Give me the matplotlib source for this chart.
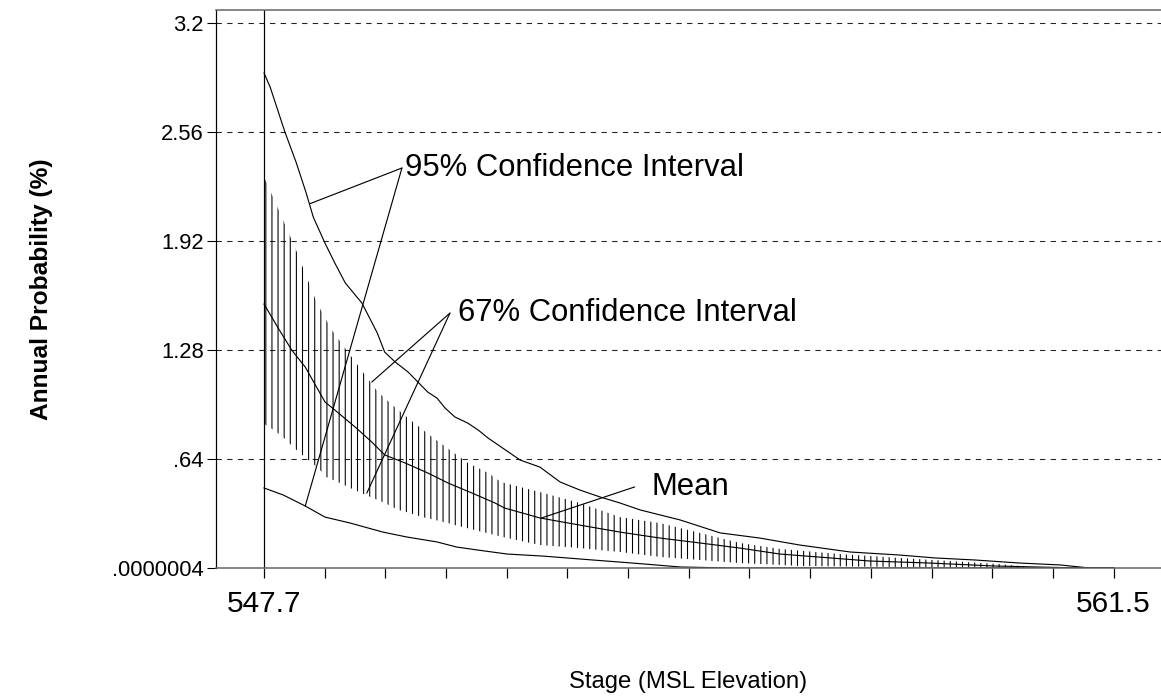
import numpy as np
import matplotlib
matplotlib.use('Agg')
import matplotlib.pyplot as plt

# stage (MSL elevation) vs annual probability (%)
stage_up95 = [547.70, 547.80, 547.89, 548.04, 548.22, 548.38, 548.50, 548.69, 548.85, 549.02,
              549.29, 549.54, 549.66, 549.83, 550.04, 550.20, 550.36, 550.51, 550.64, 550.80,
              551.01, 551.18, 551.34, 551.53, 551.86, 552.18, 552.51, 552.83, 553.16, 553.48,
              553.81, 554.46, 555.11, 555.75, 556.40, 557.22, 558.03, 558.60, 559.25, 559.98,
              560.63, 561.11, 561.50]
prob_up95 = [2.907, 2.824, 2.725, 2.560, 2.384, 2.208, 2.061, 1.908, 1.791, 1.674,
             1.556, 1.380, 1.268, 1.210, 1.151, 1.092, 1.033, 0.998, 0.940, 0.887,
             0.851, 0.810, 0.763, 0.716, 0.634, 0.593, 0.505, 0.458, 0.417, 0.382,
             0.341, 0.282, 0.206, 0.176, 0.135, 0.094, 0.076, 0.059, 0.047, 0.029,
             0.018, 0.0, 0.0]

stage_lo95 = [547.70, 548.01, 548.37, 548.69, 549.10, 549.63, 550.02, 550.51, 550.83, 551.16,
              551.65, 552.23, 553.04, 553.69, 554.46, 555.27, 561.50]
prob_lo95 = [0.470, 0.429, 0.364, 0.299, 0.264, 0.211, 0.182, 0.153, 0.123, 0.106,
             0.082, 0.070, 0.047, 0.029, 0.006, 0.0, 0.0]

stage_mean = [547.70, 547.93, 548.15, 548.37, 548.69, 548.85, 549.18, 549.45, 549.66, 549.99,
              550.36, 550.69, 551.08, 551.45, 551.61, 552.18, 552.83, 553.48, 554.13, 554.78,
              555.43, 556.08, 557.54, 558.52, 559.54, 560.95, 561.50]
prob_mean = [1.550, 1.409, 1.280, 1.180, 0.975, 0.928, 0.828, 0.740, 0.664, 0.617,
             0.558, 0.499, 0.440, 0.382, 0.352, 0.294, 0.252, 0.211, 0.176, 0.147,
             0.117, 0.082, 0.041, 0.029, 0.012, 0.0, 0.0]

stage_up67 = [547.70, 547.81, 548.01, 548.20, 548.38, 548.56, 548.80, 548.98, 549.28, 549.55,
              549.84, 550.14, 550.43, 550.72, 551.01, 551.34, 551.55, 552.18, 552.83, 553.48,
              554.13, 554.78, 555.43, 556.08, 557.05, 558.03, 559.65, 560.30]
prob_up67 = [2.296, 2.208, 2.043, 1.885, 1.720, 1.556, 1.398, 1.309, 1.163, 1.033,
             0.940, 0.851, 0.769, 0.693, 0.617, 0.558, 0.505, 0.446, 0.382, 0.299,
             0.264, 0.206, 0.147, 0.112, 0.082, 0.059, 0.023, 0.0]

stage_lo67 = [547.70, 547.81, 547.99, 548.19, 548.38, 548.58, 548.71, 548.90, 549.10, 549.28,
              549.47, 549.66, 549.88, 550.07, 550.27, 550.48, 550.69, 550.80, 551.58, 552.18,
              552.83, 553.48, 554.13, 554.78, 555.43, 556.08, 556.40, 558.03, 560.30]
prob_lo67 = [0.846, 0.822, 0.775, 0.705, 0.646, 0.587, 0.534, 0.505, 0.470, 0.440,
             0.411, 0.382, 0.341, 0.323, 0.299, 0.282, 0.264, 0.252, 0.182, 0.135,
             0.117, 0.094, 0.065, 0.047, 0.029, 0.018, 0.012, 0.006, 0.0]

y_ticks = [0, 0.64, 1.28, 1.92, 2.56, 3.2]
y_labels = ['.0000004', '.64', '1.28', '1.92', '2.56', '3.2']
x_first, x_last = 547.7, 561.5
n_xticks = 15

# annotation leaders: (anchor, [targets]) in data units
ann_95 = ((549.94, 2.349), [(548.45, 2.14), (548.37, 0.364)])
ann_67 = ((550.72, 1.497), [(549.45, 1.092), (549.37, 0.440)])
ann_mean = ((553.72, 0.476), [(552.21, 0.294)])

plt.rcParams['font.family'] = ['Liberation Sans', 'DejaVu Sans']
plt.rcParams['hatch.linewidth'] = 0.7

DPI = 110
fig = plt.figure(figsize=(1161 / DPI, 700 / DPI), dpi=DPI)
ax = fig.add_axes([216 / 1161, 132 / 700, 945 / 1161, 558 / 700])

lw = 0.75
ax.plot(stage_up95, prob_up95, color='black', lw=lw)
ax.plot(stage_lo95, prob_lo95, color='black', lw=lw)
ax.plot(stage_mean, prob_mean, color='black', lw=lw)
# 67% band drawn as hatching only
ax.fill(np.r_[stage_up67, stage_lo67[::-1]], np.r_[prob_up67, prob_lo67[::-1]],
        fill=False, hatch='|||', edgecolor='black', lw=0)

# dashed grid
for yt in y_ticks[1:]:
    ax.axhline(yt, color='#222222', lw=0.7, ls=(0, (5, 5)), zorder=0)

ax.set_xlim(546.92, 562.27)
ax.set_ylim(0, 3.277)

xt = np.linspace(x_first, x_last, n_xticks)
ax.set_xticks(xt)
ax.set_xticklabels([str(x_first)] + [''] * (n_xticks - 2) + [str(x_last)], fontsize=19.5)
ax.tick_params(axis='x', direction='out', length=6.5, width=0.8, pad=8)
ax.axvline(x_first, color='black', lw=0.8)

ax.set_yticks(y_ticks)
ax.set_yticklabels(y_labels, fontsize=14.4)
ax.tick_params(axis='y', direction='out', length=6, width=0.7, pad=2)

ax.spines['right'].set_visible(False)
ax.spines['left'].set_color('black')
ax.spines['left'].set_linewidth(0.8)
for s in ['top', 'bottom']:
    ax.spines[s].set_color('#666666')
    ax.spines[s].set_linewidth(1.0)

# annotations
def leader(anchor, targets, text, dx):
    for t in targets:
        ax.annotate('', xy=t, xytext=anchor,
                    arrowprops=dict(arrowstyle='-', lw=0.75, color='black', shrinkA=0, shrinkB=0))
    ax.text(anchor[0] + dx, anchor[1], text, fontsize=20.3, ha='left', va='center')

leader(ann_95[0], ann_95[1], '95% Confidence Interval', 0.05)
leader(ann_67[0], ann_67[1], '67% Confidence Interval', 0.13)
leader(ann_mean[0], ann_mean[1], 'Mean', 0.28)

ax.set_ylabel('Annual Probability (%)', fontsize=16, fontweight='bold')
ax.yaxis.label.set_va('center')
ax.yaxis.set_label_coords(-0.185, 0.5)
ax.set_xlabel('Stage (MSL Elevation)', fontsize=15.6)
ax.xaxis.label.set_va('center')
ax.xaxis.set_label_coords(0.5, -0.204)

plt.savefig('out.png', dpi=DPI)
